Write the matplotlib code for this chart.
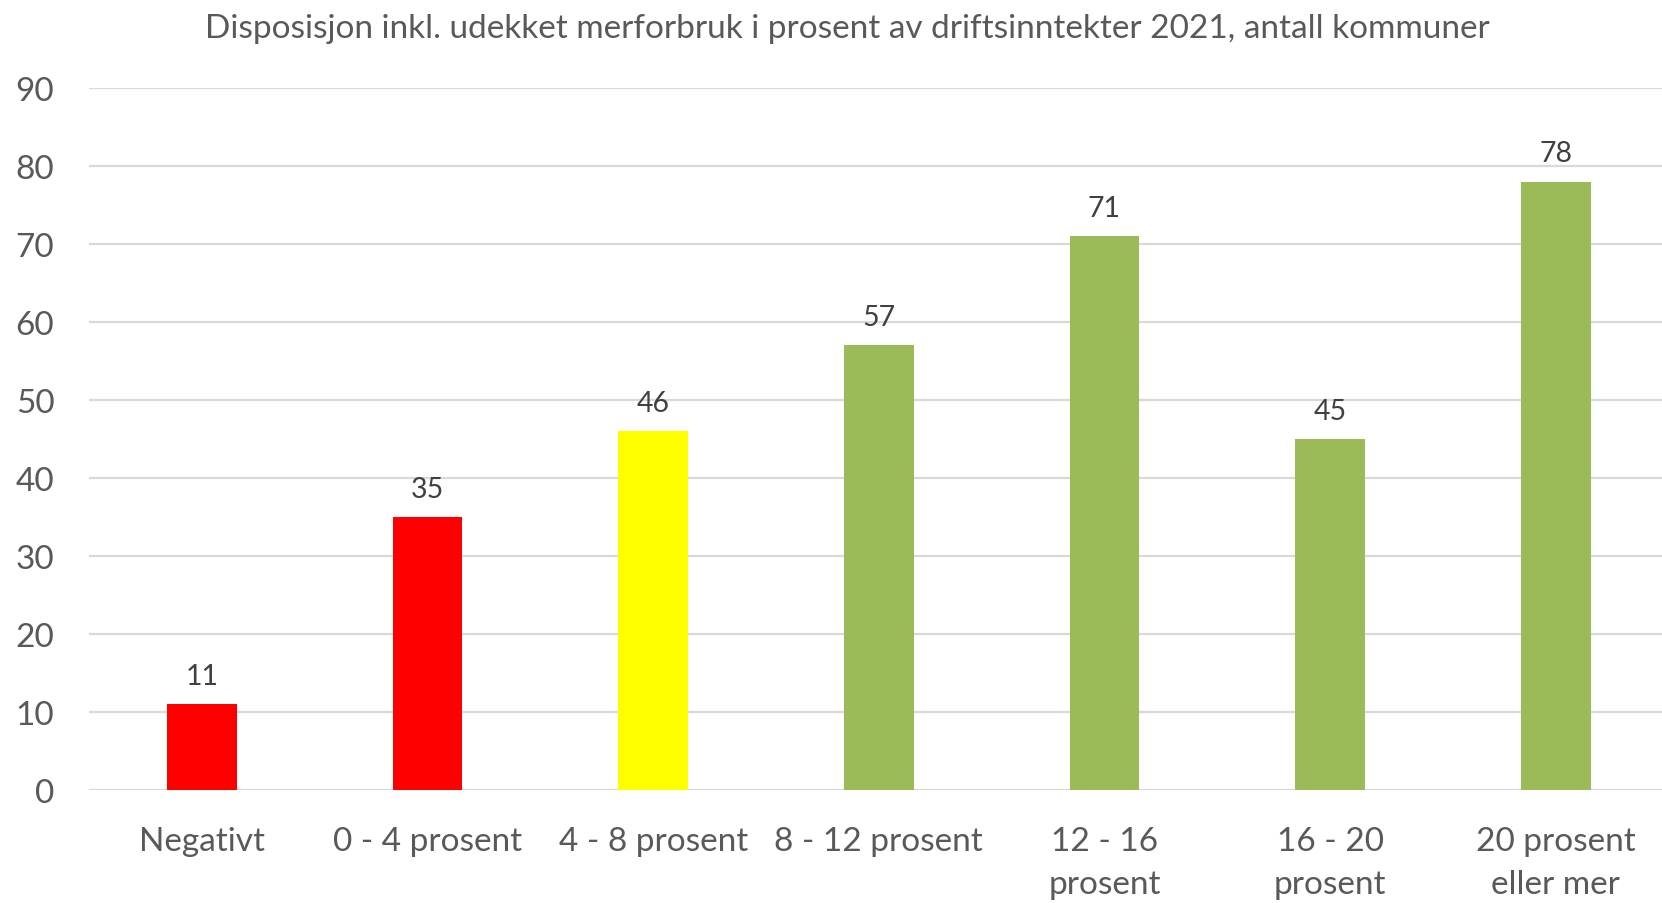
import matplotlib
matplotlib.use("Agg")
import matplotlib.pyplot as plt
import numpy as np

plt.rcParams['font.family'] = ['Lato', 'DejaVu Sans']

categories = ["Negativt", "0 - 4 prosent", "4 - 8 prosent", "8 - 12 prosent",
              "12 - 16\nprosent", "16 - 20\nprosent", "20 prosent\neller mer"]
values = [11, 35, 46, 57, 71, 45, 78]
colors = ["#FF0000", "#FF0000", "#FFFF00", "#9BBB59", "#9BBB59", "#9BBB59", "#9BBB59"]
yticks = [0, 10, 20, 30, 40, 50, 60, 70, 80, 90]
title = "Disposisjon inkl. udekket merforbruk i prosent av driftsinntekter 2021, antall kommuner"

fig = plt.figure(figsize=(16.62, 9.04), dpi=100)
ax = fig.add_axes([89/1662, 113/904, 1 - 89/1662 + 0.004, (791 - 89)/904])

x = np.arange(len(categories))
ax.bar(x, values, width=0.31, color=colors, zorder=3)

for xi, v in zip(x, values):
    ax.annotate(str(v), (xi, v), xytext=(0, 11), textcoords="offset points",
                ha="center", va="bottom", fontsize=20.5, color="#404040")

ax.set_xlim(-0.5, 6.5)
ax.set_ylim(0, 90)
ax.set_yticks(yticks)
ax.set_xticks(x)
ax.set_xticklabels(categories, fontsize=24, color="#595959", linespacing=1.55)
ax.tick_params(axis="y", labelsize=24, labelcolor="#595959", length=0, pad=25)
ax.tick_params(axis="x", length=0, pad=26)
for lab in ax.get_yticklabels():
    lab.set_horizontalalignment("right")

ax.grid(axis="y", color="#D9D9D9", linewidth=1.6, zorder=0)
for s in ax.spines.values():
    s.set_visible(False)

fig.text(0.5 * (185 + 1510) / 1662, 1 - 29/904, title, ha="center", va="center",
         fontsize=24, color="#595959")

fig.savefig("out.png", dpi=100)
